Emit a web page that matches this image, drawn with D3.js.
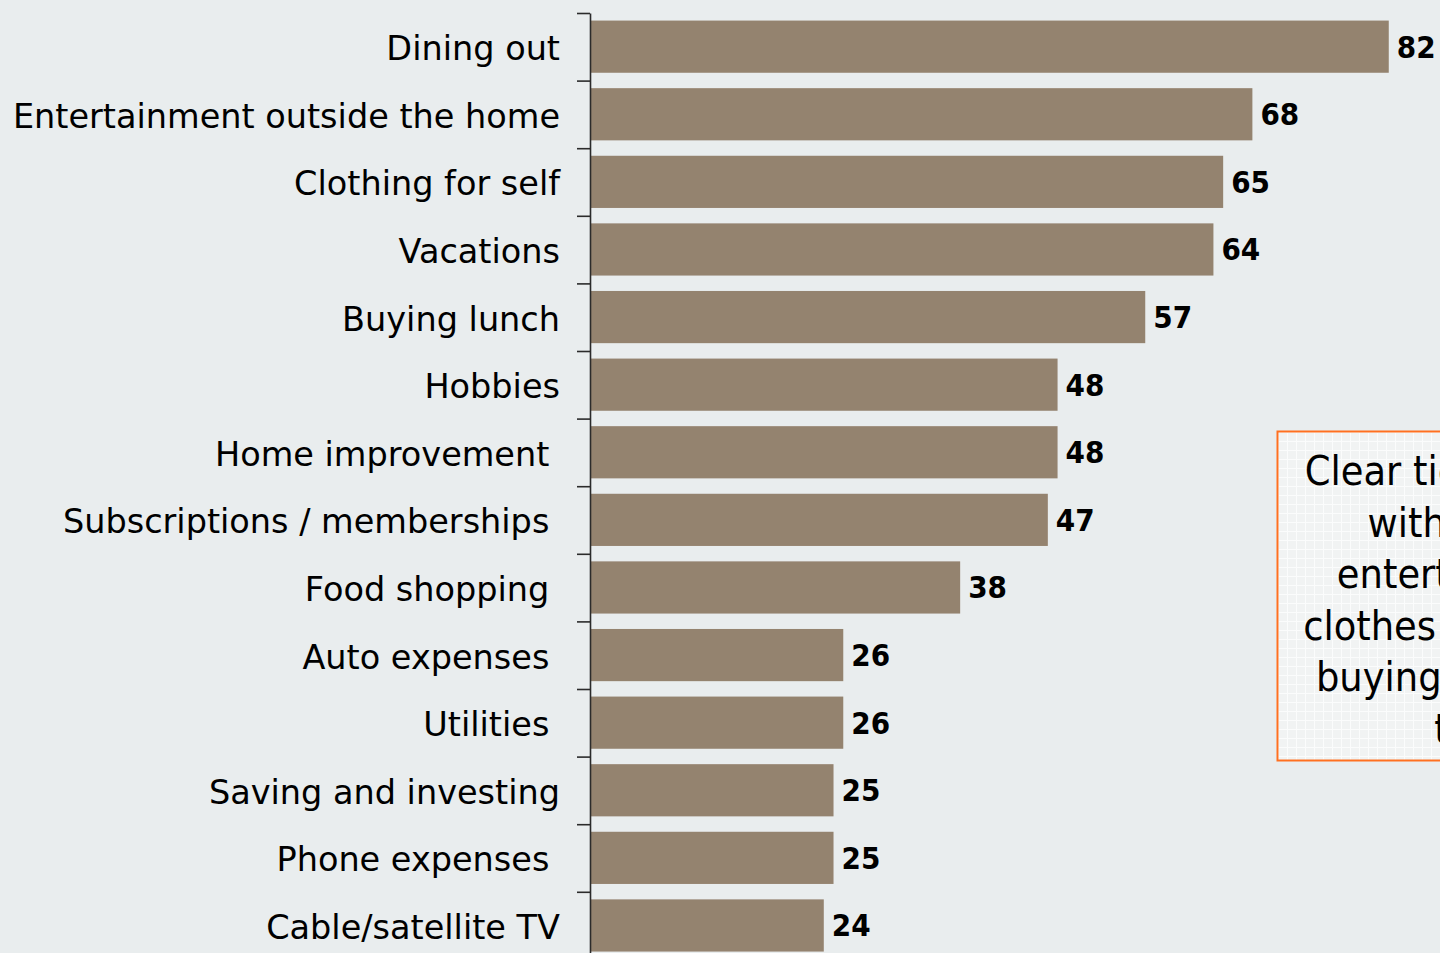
<!DOCTYPE html>
<html>
<head>
<meta charset="utf-8">
<script src="https://cdn.jsdelivr.net/npm/d3@7"></script>
<style>
  html, body { margin: 0; padding: 0; background: #e9edee; overflow: hidden; }
  svg { display: block; }
  .cat { font-family: "DejaVu Sans", sans-serif; font-size: 33.5px; fill: #000; white-space: pre; }
  .val { font-family: "DejaVu Sans Condensed", "DejaVu Sans", sans-serif; font-size: 31px; font-weight: bold; fill: #000; }
  .note { font-family: "DejaVu Sans Condensed", "DejaVu Sans", sans-serif; font-size: 41px; fill: #000; }
</style>
</head>
<body>
<script>
// Share of respondents cutting back, by spending category (%)
const categories = [
  "Dining out",
  "Entertainment outside the home",
  "Clothing for self",
  "Vacations",
  "Buying lunch",
  "Hobbies",
  "Home improvement ",
  "Subscriptions / memberships ",
  "Food shopping ",
  "Auto expenses ",
  "Utilities ",
  "Saving and investing",
  "Phone expenses ",
  "Cable/satellite TV"
];
const values = [82, 68, 65, 64, 57, 48, 48, 47, 38, 26, 26, 25, 25, 24];

const noteLines = [
  "Clear tie-in brands",
  "with dining,",
  "entertainment,",
  "clothes purchases,",
  "buying lunch and",
  "trips"
];

const W = 1440, H = 953;
const svg = d3.select("body").append("svg").attr("width", W).attr("height", H);

const data = categories.map((c, i) => ({ cat: c, value: values[i] }));

const axisX = 590;
const plotTop = 13, step = 67.6;

const x = d3.scaleLinear().domain([0, 100]).range([axisX, axisX + 974.1]);
const y = d3.scaleBand().domain(categories).range([plotTop, plotTop + step * categories.length]).padding(0);
const edge = d3.scaleLinear().domain([0, categories.length]).range([plotTop, plotTop + step * categories.length]);

// bars
svg.append("g").selectAll("rect").data(data).join("rect")
  .attr("x", x(0))
  .attr("y", d => y(d.cat) + y.bandwidth() * 0.112)
  .attr("width", d => x(d.value) - x(0))
  .attr("height", y.bandwidth() * 0.772)
  .attr("fill", "#94836f");

// category axis with ticks on the band boundaries
const axis = svg.append("g")
  .attr("transform", `translate(${axisX},0)`)
  .call(d3.axisLeft(edge).tickValues(d3.range(categories.length)).tickSize(13).tickSizeOuter(0).tickFormat(""));
axis.select(".domain").attr("stroke", "#2b2b2b").attr("stroke-width", 1.6);
axis.selectAll(".tick line").attr("stroke", "#2b2b2b").attr("stroke-width", 1.6);

// category labels
svg.append("g").selectAll("text").data(data).join("text")
  .attr("class", "cat")
  .attr("x", axisX - 30)
  .attr("y", d => y(d.cat) + y.bandwidth() / 2)
  .attr("dy", "0.4em")
  .attr("text-anchor", "end")
  .text(d => d.cat);

// value labels
svg.append("g").selectAll("text").data(data).join("text")
  .attr("class", "val")
  .attr("x", d => x(d.value) + 8)
  .attr("y", d => y(d.cat) + y.bandwidth() / 2)
  .attr("dy", "0.35em")
  .text(d => d.value);

// annotation box (runs past the right edge of the page)
const defs = svg.append("defs");
const pat = defs.append("pattern").attr("id", "grid").attr("width", 9).attr("height", 9)
  .attr("patternUnits", "userSpaceOnUse");
pat.append("rect").attr("width", 9).attr("height", 9).attr("fill", "#f1f3f3");
pat.append("path").attr("d", "M0 0.5H9M0.5 0V9").attr("stroke", "#fbfcfc").attr("stroke-width", 1);

const box = { x: 1277.5, y: 431.5, w: 396, h: 329 };
svg.append("rect")
  .attr("x", box.x).attr("y", box.y).attr("width", box.w).attr("height", box.h)
  .attr("fill", "url(#grid)")
  .attr("stroke", "#ff7020").attr("stroke-width", 2);

svg.append("g").selectAll("text").data(noteLines).join("text")
  .attr("class", "note")
  .attr("x", box.x + box.w / 2)
  .attr("y", (d, i) => 485 + i * 51.5)
  .attr("text-anchor", "middle")
  .text(d => d);
</script>
</body>
</html>
